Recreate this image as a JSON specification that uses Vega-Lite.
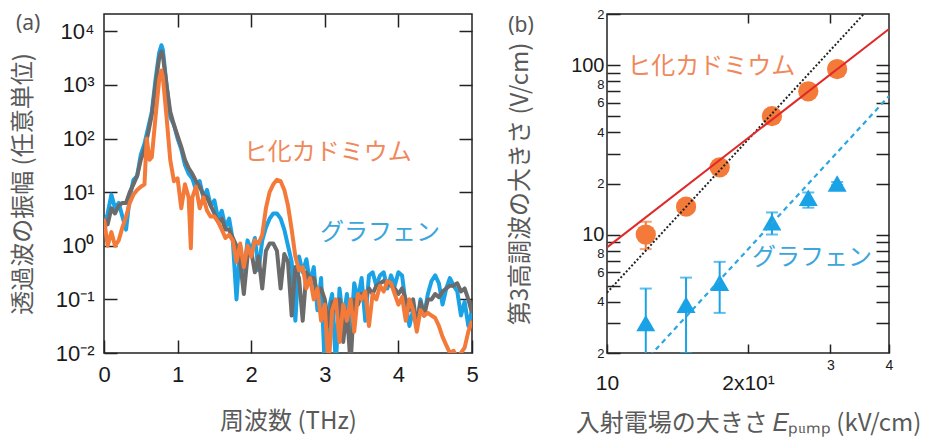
{
  "$schema": "https://vega.github.io/schema/vega-lite/v6.json",
  "padding": {"left": 10, "top": 7, "right": 2, "bottom": 2},
  "bounds": "flush",
  "spacing": 135,
  "config": {
    "view": {"stroke": "#222", "strokeWidth": 1.5},
    "axis": {"domain": false, "grid": false, "tickColor": "#222", "tickWidth": 1.5, "labelColor": "#1a1a1a", "titleColor": "#5a5a5a", "titleFontWeight": "normal", "labelFont": "Liberation Sans", "titleFont": "Noto Sans CJK JP", "labelOverlap": false}
  },
  "datasets": {
    "graphene": [
      {"f":0,"v":2.2},{"f":0.05,"v":4},{"f":0.1,"v":9},{"f":0.15,"v":5},{"f":0.2,"v":6.3},{"f":0.25,"v":3.5},{"f":0.3,"v":2},{"f":0.35,"v":8},{"f":0.4,"v":17},{"f":0.45,"v":20},{"f":0.5,"v":50},{"f":0.55,"v":80},{"f":0.6,"v":160},{"f":0.65,"v":316},{"f":0.7,"v":1260},{"f":0.75,"v":4000},{"f":0.78,"v":5500},{"f":0.8,"v":4500},{"f":0.85,"v":1000},{"f":0.9,"v":250},{"f":0.95,"v":180},{"f":1.0,"v":100},{"f":1.05,"v":63},{"f":1.1,"v":32},{"f":1.15,"v":22},{"f":1.2,"v":18},{"f":1.25,"v":11},{"f":1.3,"v":16},{"f":1.35,"v":8},{"f":1.4,"v":11},{"f":1.45,"v":5.6},{"f":1.5,"v":7},{"f":1.55,"v":3.2},{"f":1.6,"v":4.5},{"f":1.65,"v":2.2},{"f":1.7,"v":3.2},{"f":1.75,"v":1.26},{"f":1.8,"v":0.1},{"f":1.85,"v":1},{"f":1.9,"v":0.3},{"f":1.95,"v":1.26},{"f":2.0,"v":0.8},{"f":2.05,"v":1.4},{"f":2.1,"v":0.35},{"f":2.15,"v":1.26},{"f":2.2,"v":2.2},{"f":2.25,"v":3.2},{"f":2.3,"v":4},{"f":2.35,"v":4},{"f":2.4,"v":3.2},{"f":2.45,"v":2},{"f":2.5,"v":1},{"f":2.55,"v":0.5},{"f":2.6,"v":0.04},{"f":2.65,"v":0.63},{"f":2.7,"v":0.32},{"f":2.75,"v":0.56},{"f":2.8,"v":0.2},{"f":2.85,"v":0.4},{"f":2.9,"v":0.063},{"f":2.95,"v":0.25},{"f":3.0,"v":0.005},{"f":3.05,"v":0.063},{"f":3.1,"v":0.126},{"f":3.15,"v":0.006},{"f":3.2,"v":0.16},{"f":3.25,"v":0.04},{"f":3.3,"v":0.126},{"f":3.35,"v":0.02},{"f":3.4,"v":0.2},{"f":3.45,"v":0.1},{"f":3.5,"v":0.25},{"f":3.55,"v":0.04},{"f":3.6,"v":0.28},{"f":3.65,"v":0.32},{"f":3.7,"v":0.18},{"f":3.75,"v":0.28},{"f":3.8,"v":0.32},{"f":3.85,"v":0.16},{"f":3.9,"v":0.28},{"f":3.95,"v":0.18},{"f":4.0,"v":0.32},{"f":4.05,"v":0.28},{"f":4.1,"v":0.08},{"f":4.15,"v":0.032},{"f":4.2,"v":0.063},{"f":4.25,"v":0.032},{"f":4.3,"v":0.1},{"f":4.35,"v":0.05},{"f":4.4,"v":0.126},{"f":4.45,"v":0.22},{"f":4.5,"v":0.28},{"f":4.55,"v":0.2},{"f":4.6,"v":0.08},{"f":4.65,"v":0.16},{"f":4.7,"v":0.25},{"f":4.75,"v":0.18},{"f":4.8,"v":0.14},{"f":4.85,"v":0.05},{"f":4.9,"v":0.09},{"f":4.95,"v":0.032},{"f":5.0,"v":0.063}
    ],
    "reference": [
      {"f":0,"v":3.2},{"f":0.05,"v":2.5},{"f":0.1,"v":5},{"f":0.15,"v":4},{"f":0.2,"v":5.6},{"f":0.25,"v":6.3},{"f":0.3,"v":6.3},{"f":0.35,"v":10},{"f":0.4,"v":14},{"f":0.45,"v":20},{"f":0.5,"v":40},{"f":0.55,"v":63},{"f":0.6,"v":126},{"f":0.65,"v":280},{"f":0.7,"v":1000},{"f":0.75,"v":3200},{"f":0.78,"v":4200},{"f":0.8,"v":3500},{"f":0.85,"v":1000},{"f":0.9,"v":316},{"f":0.95,"v":180},{"f":1.0,"v":112},{"f":1.05,"v":70},{"f":1.1,"v":40},{"f":1.15,"v":28},{"f":1.2,"v":22},{"f":1.25,"v":16},{"f":1.3,"v":12.6},{"f":1.35,"v":9},{"f":1.4,"v":8},{"f":1.45,"v":5.6},{"f":1.5,"v":4},{"f":1.55,"v":2.8},{"f":1.6,"v":3.2},{"f":1.65,"v":2},{"f":1.7,"v":2},{"f":1.75,"v":1.4},{"f":1.8,"v":1},{"f":1.85,"v":0.5},{"f":1.9,"v":0.126},{"f":1.95,"v":0.63},{"f":2.0,"v":0.8},{"f":2.05,"v":0.32},{"f":2.1,"v":0.63},{"f":2.15,"v":0.16},{"f":2.2,"v":0.8},{"f":2.25,"v":1.1},{"f":2.3,"v":1.1},{"f":2.35,"v":0.8},{"f":2.4,"v":0.16},{"f":2.45,"v":0.7},{"f":2.5,"v":0.5},{"f":2.55,"v":0.05},{"f":2.6,"v":0.4},{"f":2.65,"v":0.25},{"f":2.7,"v":0.04},{"f":2.75,"v":0.32},{"f":2.8,"v":0.25},{"f":2.85,"v":0.25},{"f":2.9,"v":0.126},{"f":2.95,"v":0.16},{"f":3.0,"v":0.1},{"f":3.05,"v":0.032},{"f":3.1,"v":0.09},{"f":3.15,"v":0.063},{"f":3.2,"v":0.1},{"f":3.25,"v":0.016},{"f":3.3,"v":0.063},{"f":3.35,"v":0.006},{"f":3.4,"v":0.1},{"f":3.45,"v":0.08},{"f":3.5,"v":0.126},{"f":3.55,"v":0.1},{"f":3.6,"v":0.16},{"f":3.65,"v":0.126},{"f":3.7,"v":0.18},{"f":3.75,"v":0.2},{"f":3.8,"v":0.22},{"f":3.85,"v":0.2},{"f":3.9,"v":0.18},{"f":3.95,"v":0.16},{"f":4.0,"v":0.126},{"f":4.05,"v":0.16},{"f":4.1,"v":0.1},{"f":4.15,"v":0.063},{"f":4.2,"v":0.1},{"f":4.25,"v":0.032},{"f":4.3,"v":0.09},{"f":4.35,"v":0.05},{"f":4.4,"v":0.1},{"f":4.45,"v":0.1},{"f":4.5,"v":0.126},{"f":4.55,"v":0.11},{"f":4.6,"v":0.14},{"f":4.65,"v":0.16},{"f":4.7,"v":0.18},{"f":4.75,"v":0.18},{"f":4.8,"v":0.2},{"f":4.85,"v":0.14},{"f":4.9,"v":0.16},{"f":4.95,"v":0.1},{"f":5.0,"v":0.056}
    ],
    "cd3as2": [
      {"f":0,"v":3.2},{"f":0.05,"v":1},{"f":0.1,"v":1.8},{"f":0.15,"v":1},{"f":0.2,"v":1.26},{"f":0.25,"v":2.2},{"f":0.3,"v":3.5},{"f":0.35,"v":6.3},{"f":0.4,"v":9},{"f":0.45,"v":11},{"f":0.5,"v":12.6},{"f":0.55,"v":14},{"f":0.58,"v":100},{"f":0.62,"v":40},{"f":0.65,"v":45},{"f":0.7,"v":250},{"f":0.75,"v":1260},{"f":0.78,"v":1860},{"f":0.8,"v":1400},{"f":0.85,"v":250},{"f":0.9,"v":40},{"f":0.95,"v":16},{"f":1.0,"v":18},{"f":1.05,"v":5},{"f":1.1,"v":14},{"f":1.15,"v":8},{"f":1.18,"v":0.9},{"f":1.2,"v":8},{"f":1.25,"v":12.6},{"f":1.3,"v":5},{"f":1.35,"v":8},{"f":1.4,"v":4.5},{"f":1.45,"v":3.5},{"f":1.5,"v":3.5},{"f":1.55,"v":2.8},{"f":1.6,"v":2},{"f":1.65,"v":1.4},{"f":1.7,"v":1.6},{"f":1.75,"v":1.26},{"f":1.8,"v":0.5},{"f":1.85,"v":1.1},{"f":1.9,"v":0.4},{"f":1.95,"v":1},{"f":2.0,"v":0.63},{"f":2.05,"v":1.26},{"f":2.1,"v":1.1},{"f":2.15,"v":1.6},{"f":2.2,"v":5},{"f":2.25,"v":10},{"f":2.3,"v":14},{"f":2.35,"v":17},{"f":2.4,"v":16},{"f":2.45,"v":11},{"f":2.5,"v":5.6},{"f":2.55,"v":2},{"f":2.6,"v":0.63},{"f":2.65,"v":0.35},{"f":2.7,"v":0.4},{"f":2.75,"v":0.16},{"f":2.8,"v":0.25},{"f":2.85,"v":0.1},{"f":2.9,"v":0.16},{"f":2.95,"v":0.04},{"f":3.0,"v":0.08},{"f":3.05,"v":0.005},{"f":3.1,"v":0.063},{"f":3.15,"v":0.1},{"f":3.2,"v":0.016},{"f":3.25,"v":0.08},{"f":3.3,"v":0.04},{"f":3.35,"v":0.1},{"f":3.4,"v":0.025},{"f":3.45,"v":0.126},{"f":3.5,"v":0.1},{"f":3.55,"v":0.14},{"f":3.6,"v":0.032},{"f":3.65,"v":0.126},{"f":3.7,"v":0.1},{"f":3.75,"v":0.18},{"f":3.8,"v":0.14},{"f":3.85,"v":0.22},{"f":3.9,"v":0.2},{"f":3.95,"v":0.126},{"f":4.0,"v":0.08},{"f":4.05,"v":0.11},{"f":4.1,"v":0.04},{"f":4.15,"v":0.1},{"f":4.2,"v":0.063},{"f":4.25,"v":0.025},{"f":4.3,"v":0.063},{"f":4.35,"v":0.05},{"f":4.4,"v":0.056},{"f":4.45,"v":0.05},{"f":4.5,"v":0.045},{"f":4.55,"v":0.032},{"f":4.6,"v":0.02},{"f":4.65,"v":0.014},{"f":4.7,"v":0.01},{"f":4.75,"v":0.011},{"f":4.8,"v":0.008},{"f":4.85,"v":0.01},{"f":4.9,"v":0.0126},{"f":4.95,"v":0.025},{"f":5.0,"v":0.04}
    ],
    "labelsA": [
      {"x":3.04,"y":53,"t":"ヒ化カドミウム","c":"cd"},
      {"x":3.75,"y":1.72,"t":"グラフェン","c":"gr"}
    ],
    "panelA": [{"x":-1.03,"y":13500,"t":"(a)"}],
    "cdPoints": [
      {"E":12.1,"v":10,"lo":8.2,"hi":11.9},
      {"E":14.75,"v":14.6,"lo":13.6,"hi":15.6},
      {"E":17.4,"v":24.9,"lo":23.5,"hi":26.3},
      {"E":22.5,"v":49.9,"lo":47,"hi":53},
      {"E":26.9,"v":70,"lo":66,"hi":74},
      {"E":31,"v":94.7,"lo":90,"hi":100}
    ],
    "grPoints": [
      {"E":12.1,"v":3.0,"lo":1.5,"hi":4.8},
      {"E":14.75,"v":3.85,"lo":2.0,"hi":5.57},
      {"E":17.4,"v":5.2,"lo":3.45,"hi":6.9},
      {"E":22.5,"v":11.8,"lo":10,"hi":13.5},
      {"E":26.9,"v":16.5,"lo":14.4,"hi":17.7},
      {"E":31,"v":20,"lo":19.6,"hi":20.4}
    ],
    "fitRed": [{"E":10,"v":8.4},{"E":40,"v":163}],
    "fitBlack": [{"E":10,"v":4.54},{"E":40,"v":290}],
    "fitBlue": [{"E":10,"v":1.02},{"E":40,"v":65.6}],
    "labelsB": [
      {"x":16.7,"y":97,"t":"ヒ化カドミウム","c":"cd"},
      {"x":27.4,"y":7.3,"t":"グラフェン","c":"gr"}
    ],
    "panelB": [{"x":6.55,"y":170,"t":"(b)"}]
  },
  "hconcat": [
    {
      "width": 368,
      "height": 339,
      "layer": [
        {
          "data": {"name": "graphene"},
          "mark": {"type": "line", "color": "#1aa2e6", "strokeWidth": 4, "clip": true, "strokeJoin": "round"},
          "encoding": {
            "x": {"field": "f", "type": "quantitative", "scale": {"domain": [0, 5], "nice": false, "zero": false},
              "axis": {"orient": "bottom", "values": [0, 1, 2, 3, 4, 5], "format": "d", "tickSize": -13, "labelPadding": 24, "labelFontSize": 22, "labelFlush": false, "title": "周波数 (THz)", "titleFontSize": 24, "titlePadding": 24}},
            "y": {"field": "v", "type": "quantitative", "scale": {"type": "log", "domain": [0.01, 21000], "nice": false},
              "axis": {"orient": "left", "values": [0.01, 0.1, 1, 10, 100, 1000, 10000], "labelExpr": "datum.value < 0.05 ? '10⁻²' : datum.value < 0.5 ? '10⁻¹' : datum.value < 5 ? '10⁰' : datum.value < 50 ? '10¹' : datum.value < 500 ? '10²' : datum.value < 5000 ? '10³' : '10⁴'", "tickSize": -13, "labelPadding": 23, "labelFontSize": 22, "title": "透過波の振幅 (任意単位)", "titleFontSize": 24, "titlePadding": 20}}
          }
        },
        {
          "data": {"name": "reference"},
          "mark": {"type": "line", "color": "#6b6b6b", "strokeWidth": 4, "clip": true, "strokeJoin": "round"},
          "encoding": {
            "x": {"field": "f", "type": "quantitative", "scale": {"domain": [0, 5], "nice": false, "zero": false},
              "axis": {"orient": "top", "values": [1, 2, 3, 4], "labels": false, "tickSize": -13, "title": null}},
            "y": {"field": "v", "type": "quantitative", "scale": {"type": "log", "domain": [0.01, 21000], "nice": false},
              "axis": {"orient": "right", "values": [0.1, 1, 10, 100, 1000, 10000], "labels": false, "tickSize": -13, "title": null}}
          }
        },
        {
          "data": {"name": "cd3as2"},
          "mark": {"type": "line", "color": "#f47a3a", "strokeWidth": 4, "clip": true, "strokeJoin": "round"},
          "encoding": {
            "x": {"field": "f", "type": "quantitative", "scale": {"domain": [0, 5], "nice": false, "zero": false}, "axis": null},
            "y": {"field": "v", "type": "quantitative", "scale": {"type": "log", "domain": [0.01, 21000], "nice": false}, "axis": null}
          }
        },
        {
          "data": {"name": "labelsA"},
          "mark": {"type": "text", "font": "Noto Sans CJK JP", "fontSize": 24, "align": "center", "baseline": "middle"},
          "encoding": {
            "x": {"field": "x", "type": "quantitative", "scale": {"domain": [0, 5], "nice": false, "zero": false}, "axis": null},
            "y": {"field": "y", "type": "quantitative", "scale": {"type": "log", "domain": [0.01, 21000], "nice": false}, "axis": null},
            "text": {"field": "t"},
            "color": {"field": "c", "type": "nominal", "scale": {"domain": ["cd", "gr"], "range": ["#f0885a", "#3ba6dc"]}, "legend": null}
          }
        },
        {
          "data": {"name": "panelA"},
          "mark": {"type": "text", "font": "Noto Sans", "fontSize": 21, "align": "center", "baseline": "middle", "color": "#555555"},
          "encoding": {
            "x": {"field": "x", "type": "quantitative", "scale": {"domain": [0, 5], "nice": false, "zero": false}, "axis": null},
            "y": {"field": "y", "type": "quantitative", "scale": {"type": "log", "domain": [0.01, 21000], "nice": false}, "axis": null},
            "text": {"field": "t"}
          }
        }
      ],
      "resolve": {"axis": {"x": "independent", "y": "independent"}}
    },
    {
      "width": 282,
      "height": 339,
      "layer": [
        {
          "data": {"name": "grPoints"},
          "mark": {"type": "rule", "color": "#1aa2e6", "strokeWidth": 2, "clip": true},
          "encoding": {
            "x": {"field": "E", "type": "quantitative", "scale": {"type": "log", "domain": [10, 40], "nice": false},
              "axis": {"orient": "bottom", "values": [10, 20, 30, 40], "labelExpr": "datum.value == 10 ? '10' : datum.value == 20 ? '2x10¹' : datum.value == 30 ? '3' : '4'", "tickSize": -9, "labelPadding": 28, "labelFlush": false,
                "labelFontSize": {"condition": {"test": "datum.value >= 30", "value": 14}, "value": 21},
                "labelBaseline": {"condition": {"test": "datum.value >= 30", "value": "bottom"}, "value": "top"},
                "title": "入射電場の大きさ 𝐸ₚᵤₘₚ (kV/cm)", "titleFontSize": 24, "titlePadding": 18}},
            "y": {"field": "lo", "type": "quantitative", "scale": {"type": "log", "domain": [2, 200], "nice": false},
              "axis": {"orient": "left", "values": [2, 3, 4, 5, 6, 7, 8, 9, 10, 20, 30, 40, 50, 60, 70, 80, 90, 100, 200],
                "labelExpr": "datum.value == 10 ? '10\u00a0\u00a0' : datum.value == 100 ? '100\u00a0\u00a0' : (datum.value == 2 || datum.value == 4 || datum.value == 6 || datum.value == 8) ? format(datum.value, 'd') : (datum.value == 20 || datum.value == 40 || datum.value == 60 || datum.value == 80) ? format(datum.value / 10, 'd') : datum.value == 200 ? '2' : ''",
                "tickSize": -13, "labelPadding": 16,
                "labelFontSize": {"condition": {"test": "datum.value == 10 || datum.value == 100", "value": 20}, "value": 13},
                "labelOffset": {"condition": {"test": "datum.value == 8 || datum.value == 80", "value": 3}, "value": 0},
                "title": "第3高調波の大きさ (V/cm)", "titleFontSize": 24, "titlePadding": 38}},
            "y2": {"field": "hi"}
          }
        },
        {
          "data": {"name": "grPoints"},
          "mark": {"type": "tick", "orient": "horizontal", "color": "#1aa2e6", "size": 12, "thickness": 2, "clip": true},
          "encoding": {
            "x": {"field": "E", "type": "quantitative", "scale": {"type": "log", "domain": [10, 40], "nice": false},
              "axis": {"orient": "top", "values": [20, 30], "labels": false, "tickSize": -9, "title": null}},
            "y": {"field": "hi", "type": "quantitative", "scale": {"type": "log", "domain": [2, 200], "nice": false},
              "axis": {"orient": "right", "values": [3, 4, 5, 6, 7, 8, 9, 10, 20, 30, 40, 50, 60, 70, 80, 90, 100], "labels": false, "tickSize": -13, "title": null}}
          }
        },
        {
          "data": {"name": "grPoints"},
          "mark": {"type": "tick", "orient": "horizontal", "color": "#1aa2e6", "size": 12, "thickness": 2, "clip": true},
          "encoding": {
            "x": {"field": "E", "type": "quantitative", "scale": {"type": "log", "domain": [10, 40], "nice": false}, "axis": null},
            "y": {"field": "lo", "type": "quantitative", "scale": {"type": "log", "domain": [2, 200], "nice": false}, "axis": null}
          }
        },
        {
          "data": {"name": "cdPoints"},
          "mark": {"type": "rule", "color": "#f47a3a", "strokeWidth": 2, "clip": true},
          "encoding": {
            "x": {"field": "E", "type": "quantitative", "scale": {"type": "log", "domain": [10, 40], "nice": false}, "axis": null},
            "y": {"field": "lo", "type": "quantitative", "scale": {"type": "log", "domain": [2, 200], "nice": false}, "axis": null},
            "y2": {"field": "hi"}
          }
        },
        {
          "data": {"name": "cdPoints"},
          "mark": {"type": "tick", "orient": "horizontal", "color": "#f47a3a", "size": 12, "thickness": 2, "clip": true},
          "encoding": {
            "x": {"field": "E", "type": "quantitative", "scale": {"type": "log", "domain": [10, 40], "nice": false}, "axis": null},
            "y": {"field": "hi", "type": "quantitative", "scale": {"type": "log", "domain": [2, 200], "nice": false}, "axis": null}
          }
        },
        {
          "data": {"name": "cdPoints"},
          "mark": {"type": "tick", "orient": "horizontal", "color": "#f47a3a", "size": 12, "thickness": 2, "clip": true},
          "encoding": {
            "x": {"field": "E", "type": "quantitative", "scale": {"type": "log", "domain": [10, 40], "nice": false}, "axis": null},
            "y": {"field": "lo", "type": "quantitative", "scale": {"type": "log", "domain": [2, 200], "nice": false}, "axis": null}
          }
        },
        {
          "data": {"name": "grPoints"},
          "mark": {"type": "point", "shape": "triangle-up", "filled": true, "size": 360, "color": "#1aa2e6", "opacity": 1},
          "encoding": {
            "x": {"field": "E", "type": "quantitative", "scale": {"type": "log", "domain": [10, 40], "nice": false}, "axis": null},
            "y": {"field": "v", "type": "quantitative", "scale": {"type": "log", "domain": [2, 200], "nice": false}, "axis": null}
          }
        },
        {
          "data": {"name": "cdPoints"},
          "mark": {"type": "circle", "size": 410, "color": "#f47a3a", "opacity": 1},
          "encoding": {
            "x": {"field": "E", "type": "quantitative", "scale": {"type": "log", "domain": [10, 40], "nice": false}, "axis": null},
            "y": {"field": "v", "type": "quantitative", "scale": {"type": "log", "domain": [2, 200], "nice": false}, "axis": null}
          }
        },
        {
          "data": {"name": "fitBlue"},
          "mark": {"type": "line", "color": "#2aa6e0", "strokeWidth": 2.2, "strokeDash": [5, 4], "clip": true},
          "encoding": {
            "x": {"field": "E", "type": "quantitative", "scale": {"type": "log", "domain": [10, 40], "nice": false}, "axis": null},
            "y": {"field": "v", "type": "quantitative", "scale": {"type": "log", "domain": [2, 200], "nice": false}, "axis": null}
          }
        },
        {
          "data": {"name": "fitBlack"},
          "mark": {"type": "line", "color": "#222222", "strokeWidth": 2, "strokeDash": [2, 2], "clip": true},
          "encoding": {
            "x": {"field": "E", "type": "quantitative", "scale": {"type": "log", "domain": [10, 40], "nice": false}, "axis": null},
            "y": {"field": "v", "type": "quantitative", "scale": {"type": "log", "domain": [2, 200], "nice": false}, "axis": null}
          }
        },
        {
          "data": {"name": "fitRed"},
          "mark": {"type": "line", "color": "#e02a2a", "strokeWidth": 2, "clip": true},
          "encoding": {
            "x": {"field": "E", "type": "quantitative", "scale": {"type": "log", "domain": [10, 40], "nice": false}, "axis": null},
            "y": {"field": "v", "type": "quantitative", "scale": {"type": "log", "domain": [2, 200], "nice": false}, "axis": null}
          }
        },
        {
          "data": {"name": "labelsB"},
          "mark": {"type": "text", "font": "Noto Sans CJK JP", "fontSize": 24, "align": "center", "baseline": "middle"},
          "encoding": {
            "x": {"field": "x", "type": "quantitative", "scale": {"type": "log", "domain": [10, 40], "nice": false}, "axis": null},
            "y": {"field": "y", "type": "quantitative", "scale": {"type": "log", "domain": [2, 200], "nice": false}, "axis": null},
            "text": {"field": "t"},
            "color": {"field": "c", "type": "nominal", "scale": {"domain": ["cd", "gr"], "range": ["#f0885a", "#3ba6dc"]}, "legend": null}
          }
        },
        {
          "data": {"name": "panelB"},
          "mark": {"type": "text", "font": "Noto Sans", "fontSize": 21, "align": "center", "baseline": "middle", "color": "#555555"},
          "encoding": {
            "x": {"field": "x", "type": "quantitative", "scale": {"type": "log", "domain": [10, 40], "nice": false}, "axis": null},
            "y": {"field": "y", "type": "quantitative", "scale": {"type": "log", "domain": [2, 200], "nice": false}, "axis": null},
            "text": {"field": "t"}
          }
        }
      ],
      "resolve": {"axis": {"x": "independent", "y": "independent"}}
    }
  ]
}
